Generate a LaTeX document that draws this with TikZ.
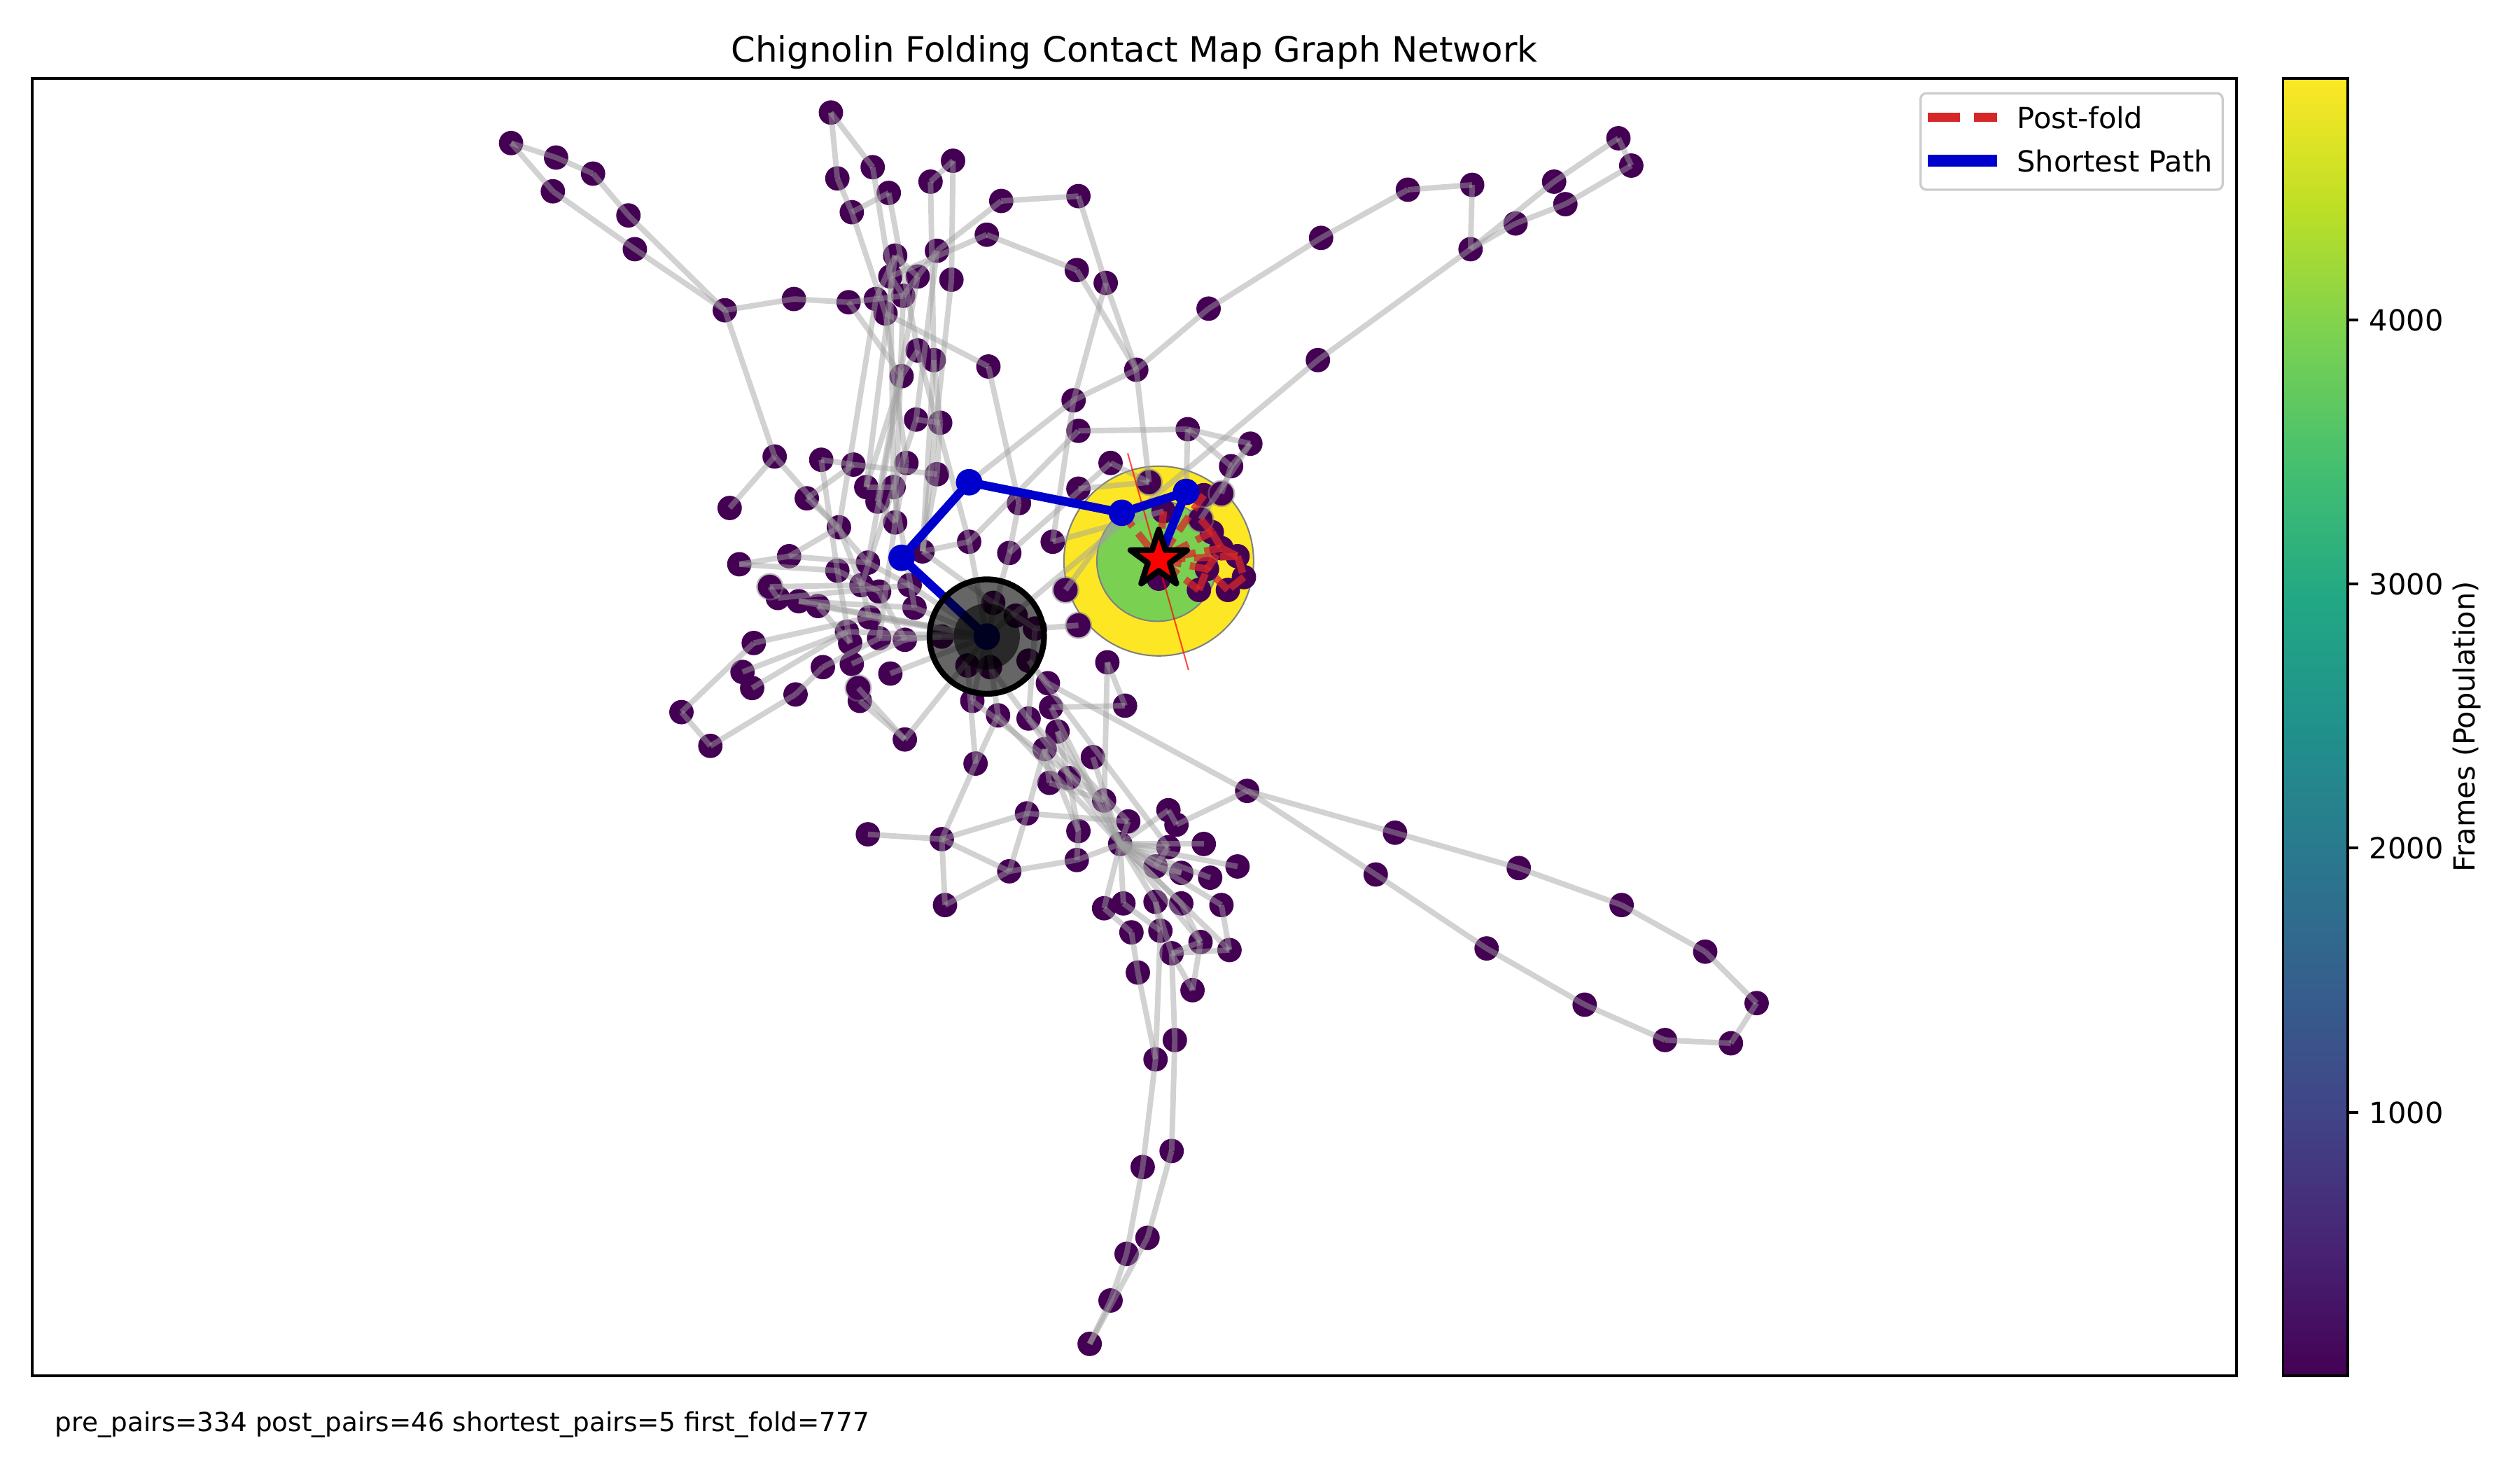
\documentclass[tikz,border=0pt]{standalone}
\usepackage{fontspec}
\setmainfont{DejaVu Sans}
\usepackage{tikz}
\usetikzlibrary{shapes.geometric}
\definecolor{nodepurple}{RGB}{68,1,84}
\definecolor{edgegray}{RGB}{160,160,160}
\definecolor{postred}{RGB}{214,39,40}
\definecolor{pathblue}{RGB}{0,0,205}
\definecolor{popyellow}{RGB}{253,231,37}
\definecolor{popgreen}{RGB}{122,209,81}
% viridis stops for the colour bar
\definecolor{vir0}{RGB}{68,1,84}
\definecolor{vir1}{RGB}{72,36,117}
\definecolor{vir2}{RGB}{65,68,135}
\definecolor{vir3}{RGB}{53,95,141}
\definecolor{vir4}{RGB}{42,120,142}
\definecolor{vir5}{RGB}{33,145,140}
\definecolor{vir6}{RGB}{34,168,132}
\definecolor{vir7}{RGB}{68,191,112}
\definecolor{vir8}{RGB}{122,209,81}
\definecolor{vir9}{RGB}{189,223,38}
\definecolor{vir10}{RGB}{253,231,37}
\pgfdeclareverticalshading{viridisbar}{100bp}{color(0bp)=(vir0); color(25bp)=(vir0);
  color(30bp)=(vir1); color(35bp)=(vir2); color(40bp)=(vir3); color(45bp)=(vir4);
  color(50bp)=(vir5); color(55bp)=(vir6); color(60bp)=(vir7); color(65bp)=(vir8);
  color(70bp)=(vir9); color(75bp)=(vir10); color(100bp)=(vir10)}

\begin{document}
\begin{tikzpicture}[x=0.19439mm, y=-0.19439mm, font=\fontsize{10}{12}\selectfont,
    pnode/.style={circle, fill=nodepurple, inner sep=0pt, minimum size=2.95mm},
    pathnode/.style={circle, fill=pathblue, inner sep=0pt, minimum size=3.2mm},
    hollow/.style={circle, draw=gray, draw opacity=0.5, line width=0.6pt, inner sep=0pt, minimum size=3.1mm},
    grayedge/.style={draw=edgegray, line width=1.9pt, opacity=0.47},
    postedge/.style={draw=postred, line width=2.5pt, opacity=0.75, dash pattern=on 6pt off 3pt},
    pathedge/.style={draw=pathblue, line width=3pt}]
  \useasboundingbox (0,0) rectangle (1568,915);

  % shortest path stops and folded state
  \coordinate (p0) at (614,396);
  \coordinate (p1) at (561,347);
  \coordinate (p2) at (603,300);
  \coordinate (p3) at (698,319);
  \coordinate (p4) at (738,306);
  \coordinate (st) at (721,348);
  \coordinate (foldA) at (701.7,282);
  \coordinate (foldB) at (739.5,416.8);

  % population discs of the folded state
  \draw[fill=popyellow, draw=gray, line width=0.5pt] (721,349) circle[radius=59];
  \draw[fill=popgreen, draw=gray, line width=0.5pt] (720,349) circle[radius=37.5];

  % states
  \foreach \n/\x/\y in {a1/318/89, a2/346/98, a3/369/108, a4/344/119, a5/391/134, a6/395/155,
      a7/451/193, a8/494/186, a9/528/188,
      c1/517/70, c2/521/111, c3/543/104, c4/593/100, c5/579/113, c6/553/120, c7/530/132,
      c8/623/125, c9/671/122, c10/614/146, c11/583/156, c12/557/159, c13/554/172, c14/571/172,
      c15/592/174, c16/545/186, c17/562/184, c18/551/195, c19/670/168, c20/688/176, c21/571/218,
      c22/581/224, c23/561/234, c24/615/228, c25/570/261, c26/585/263, c27/668/249, c28/671/268,
      c29/707/230, c30/691/288,
      g1/1007/86, g2/1015/103, g3/967/113, g4/974/127, g5/943/139, g6/916/115, g7/915/155,
      g8/876/118, g9/822/148, g10/752/192, g11/820/224,
      f1/739/267, f2/778/276, f3/766/290,
      b1/482/284, b2/511/286, b3/531/289, b4/564/288, b5/583/295,
      d1/454/316, d2/502/310, d3/539/303, d4/546/312, d5/556/303, d6/557/325, d7/522/328,
      d8/634/313, d9/603/337, d10/628/344, d11/655/337, d12/671/304, d13/574/343,
      d14/460/351, d15/491/346, d16/521/355, d17/540/350, d18/479/365, d19/484/372, d20/497/374,
      d21/509/377, d22/536/364, d23/547/368, d24/566/364, d25/569/378, d26/541/384, d27/527/393,
      d28/529/400, d29/547/397, d30/563/398, d31/469/400, d32/462/418, d33/468/428, d34/512/415,
      d35/530/413, d36/554/419, d37/534/428, d38/535/436, d39/495/432, d40/424/443, d41/442/464,
      d42/563/460, d43/607/475, d44/605/436, d45/621/445, d46/640/447, d47/652/425, d48/654/440,
      d49/658/455, d50/650/466, d51/680/471, d53/663/367, d54/671/389, d55/689/412, d56/700/439,
      k1/618/375, k2/632/383, k3/644/391, k4/640/411, k5/616/415, k6/602/414, k7/586/396,
      i1/653/487, i2/665/484, i3/639/506, i4/540/519, i5/586/522, i6/628/542, i7/588/563,
      i8/670/535, i9/671/517, i10/687/498, i11/702/511, i12/697/525, i13/727/504, i14/732/513,
      i15/749/525, i16/727/527, i17/719/539, i18/735/543, i19/753/546, i20/770/539, i21/687/565,
      i22/699/562, i23/719/561, i24/735/562, i25/760/563, i26/704/580, i27/722/579, i28/747/586,
      i29/765/591, i30/729/593, i31/708/605, i32/742/616, i33/731/647, i34/719/659,
      j1/711/726, j2/729/716, j3/701/780, j4/714/770, j5/691/809, j6/678/836,
      h1/776/492, h2/868/518, h3/945/540, h4/1009/563, h5/1061/592, h6/1093/624, h7/1077/649,
      h8/1036/647, h9/986/625, h10/925/590, h11/856/544,
      e1/749/308, e2/760/307, e3/754/331, e4/760/341, e5/770/346, e6/774/359, e7/764/367,
      e8/746/367, e9/751/354, e10/721/360, e11/715/300, e12/724/318, e13/747/323}
    \node[pnode] (\n) at (\x,\y) {};

  % pre-fold contacts
  \foreach \u/\v in {a1/a2, a1/a4, a2/a3, a3/a5, a4/a6, a5/a7, a6/a7, a7/a8, a8/a9, a7/b1,
      c1/c2, c1/c3, c2/c7, c3/c13, c6/c7, c4/c5, c4/c15, c5/c22, c6/c21, c7/c18,
      c8/c9, c8/c11, c9/c20, c10/c19, c10/c13, c19/c29, c20/c27, c20/c29, c29/c27, c29/e11,
      a9/c16, a9/c23, c16/c17, c12/c14, c13/c17, c11/c14, c14/c17, c12/c16,
      c12/d3, c13/d5, c14/d4, c16/d7, c17/d6, c18/b4, c15/d13, c11/c25, c21/d9, c22/d13,
      c23/d17, c23/d3, c25/d22, c26/b5, c21/c23, c22/c26, c25/c26, c24/d8, c18/c24, c27/p2,
      c28/f1, c28/d9, c30/e11, c30/d10, c27/d11,
      g1/g2, g1/g3, g2/g4, g3/g7, g4/g5, g5/g7, g6/g7, g6/g8, g8/g9, g9/g10, g10/c29, g7/g11, g11/p0,
      f1/f2, f1/f3, f2/f3, f1/p4, f3/e2, f2/e13,
      d1/b1, b1/d17, b2/b3, b3/b5, b2/d16, d2/b3, d2/d7, d14/d15, d15/d17, d14/d16, d15/d7,
      d18/d22, d18/d19, d19/d24, d20/p0, d21/p0, d31/d26, d32/d27, d33/d27, d40/d31, d40/d41,
      d41/d39, d39/d34, d34/d29, d35/d30, d36/p0, d37/d42, d38/d42, d42/p0, d43/d45, d43/i5,
      d3/d5, d4/d6, d7/d22, d16/d23, d17/d24, d22/d26, d23/d30, d24/p0, d25/p0, d26/p0, d27/p0,
      d29/p0, d13/d9, d8/d10, d10/p0, d9/p0, b4/d6, b5/d13, d5/d25, d6/d29, d16/d28, d21/d28,
      d20/d25, d12/e11, d11/e12, d53/p3, d54/k3, d55/d56, d55/i10, d56/d48, d47/h1, d44/p0,
      d45/p0, d46/k3, d47/k4, d48/i12, d49/i12, d50/i9, d51/i12, d46/i11, d45/i12, d44/i10,
      k5/i12, k4/i16, k6/d43, k1/k2, k2/k3, k7/d30, k1/d13,
      i4/i5, i5/i6, i5/i7, i7/i6, i5/i3, i3/i6, i3/d50, i3/i11, i6/i8, i8/i9, i8/i12, i9/i2,
      i2/d49, i1/d50, i1/i10, i10/i12, i11/i12, i12/i13, i12/i15, i12/i16, i12/i17, i12/i18,
      i12/i19, i12/i20, i12/i21, i12/i22, i12/i23, i12/i24, i12/i25, i12/i28, i12/i29, i13/i14,
      i14/h1, i16/i17, i17/i18, i21/i26, i22/i27, i23/i27, i23/i30, i24/i28, i25/i29, i28/i30,
      i29/i30, i30/i33, i30/i32, i26/i31, i31/i34, i34/i27, i34/j1, i33/j2, j1/j3, j2/j4,
      j3/j5, j4/j6, j5/j6, i28/i32,
      h1/h2, h2/h3, h3/h4, h4/h5, h5/h6, h6/h7, h7/h8, h8/h9, h9/h10, h10/h11, h11/h1}
    \draw[grayedge] (\u.center) -- (\v.center);

  \foreach \n in {e2, e11, e13, d53, d54, d18, d37}
    \node[hollow] (ring\n) at (\n) {};

  % post-fold contacts
  \foreach \u/\v in {p3/st, e1/st, e3/st, e4/st, e5/st, e9/st, e3/e4, e4/e5, e5/e6, e6/e7,
      e7/e9, e8/e9, e9/e4, e8/st, e12/st, e13/e3}
    \draw[postedge] (\u.center) -- (\v.center);
  \draw[red, opacity=0.7, line width=0.5pt] (foldA) -- (foldB);

  % shortest path
  \draw[pathedge] (p0) -- (p1) -- (p2) -- (p3) -- (p4) -- (st);
  \foreach \n in {p0, p1, p2, p3, p4}
    \node[pathnode] (dot\n) at (\n) {};

  % start state and folded target
  \node[circle, draw=black, line width=2pt, fill=black, fill opacity=0.6,
        inner sep=0pt, minimum size=13.84mm] (start) at (p0) {};
  \node[circle, fill=black, fill opacity=0.6, inner sep=0pt, minimum size=8mm] (startcore) at (p0) {};
  \node[star, star points=5, star point ratio=2.6, fill=red, draw=black, line width=2pt,
        line join=round, inner sep=0pt, minimum size=7.2mm] (target) at (st) {};

  % axes, title and note
  \draw[line width=0.8pt] (20,48.8) rectangle (1391.6,855.8);
  \node[font=\fontsize{12}{14}\selectfont, anchor=base] (title) at (705.8,38.5)
        {Chignolin Folding Contact Map Graph Network};
  \node[font=\fontsize{9}{11}\selectfont, anchor=base west, inner sep=0pt] (stats) at (34,890.5)
        {pre\_pairs=334 post\_pairs=46 shortest\_pairs=5 first\_fold=777};

  % legend
  \draw[draw=black!20, fill=white, line width=0.8pt, rounded corners=2pt] (1195,58) rectangle (1383,118);
  \coordinate (legA) at (1199.5,73);
  \coordinate (legB) at (1242.5,73);
  \coordinate (legC) at (1199.5,100);
  \coordinate (legD) at (1242.5,100);
  \draw[postred, line width=3pt, dash pattern=on 11.1pt off 4.8pt] (legA) -- (legB);
  \draw[pathblue, line width=4pt] (legC) -- (legD);
  \node[anchor=west, inner sep=0pt] (legpost) at (1254.7,73) {Post-fold};
  \node[anchor=west, inner sep=0pt] (legpath) at (1254.7,100) {Shortest Path};

  % colour bar
  \shade[shading=viridisbar] (1420.6,48.8) rectangle (1460.9,855.8);
  \draw[line width=0.8pt] (1420.6,48.8) rectangle (1460.9,855.8);
  \foreach \v/\yy in {4000/199.0, 3000/363.2, 2000/527.4, 1000/692.1}
    \draw[line width=0.8pt] (1460.9,\yy) -- ++(6.33,0)
      node[anchor=west, inner sep=0pt, xshift=3.5pt] (tick\v) {\v};
  \node[rotate=90, anchor=center] (cblabel) at (1535,452) {Frames (Population)};
\end{tikzpicture}
\end{document}
